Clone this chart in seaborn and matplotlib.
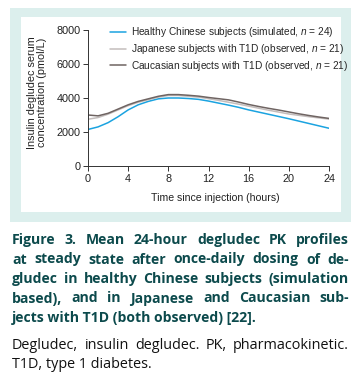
import pandas as pd
import matplotlib
matplotlib.use('Agg')
import matplotlib.pyplot as plt
import seaborn as sns
from matplotlib.patches import Rectangle

# Data (hourly, steady state)
hours = list(range(0, 25))
chinese = [2150, 2300, 2550, 2900, 3300, 3600, 3800, 3950, 4000, 4000, 3970, 3920, 3820,
           3700, 3580, 3450, 3300, 3170, 3040, 2910, 2780, 2640, 2500, 2360, 2220]
japanese = [2750, 2850, 3050, 3300, 3550, 3750, 3900, 4050, 4150, 4150, 4100, 4050, 3960,
            3860, 3750, 3640, 3520, 3400, 3280, 3170, 3060, 2980, 2900, 2830, 2760]
caucasian = [3000, 2950, 3100, 3350, 3600, 3800, 3950, 4100, 4200, 4200, 4160, 4110, 4030,
             3960, 3890, 3760, 3620, 3500, 3390, 3290, 3180, 3070, 2970, 2880, 2800]
series_names = ['Healthy Chinese subjects (simulated, $n$ = 24)',
                'Japanese subjects with T1D (observed, $n$ = 21)',
                'Caucasian subjects with T1D (observed, $n$ = 21)']
colors = ['#1ba3e0', '#c3bdbc', '#6f6462']
x_ticks = [0, 4, 8, 12, 16, 20, 24]
y_ticks = [0, 2000, 4000, 6000, 8000]

df = pd.DataFrame({
    'Time': hours * 3,
    'Conc': chinese + japanese + caucasian,
    'Group': [series_names[0]] * 25 + [series_names[1]] * 25 + [series_names[2]] * 25,
})

sns.set_style('ticks')
plt.rcParams['font.family'] = ['Liberation Sans', 'DejaVu Sans']
plt.rcParams['mathtext.fontset'] = 'custom'
plt.rcParams['mathtext.it'] = 'Liberation Sans:italic'
plt.rcParams['mathtext.rm'] = 'Liberation Sans'

W, H = 355, 376
fig = plt.figure(figsize=(W / 100, H / 100), dpi=100)
fig.patch.set_facecolor('white')

# teal frame and white inner panel
fig.patches.append(Rectangle((10 / W, 1 - 222 / H), 341 / W, 214 / H, transform=fig.transFigure,
                             facecolor='#dcefed', edgecolor='none', zorder=-3))
fig.patches.append(Rectangle((21 / W, 1 - 212 / H), 320 / W, 195 / H, transform=fig.transFigure,
                             facecolor='white', edgecolor='none', zorder=-2))

ax = fig.add_axes([88 / W, 1 - 166 / H, 241 / W, 136 / H])
ax.set_facecolor('none')
sns.lineplot(data=df, x='Time', y='Conc', hue='Group', palette=colors, linewidth=1.1,
             ax=ax, legend=False)
ax.set_xlim(0, 24)
ax.set_ylim(0, 8000)
ax.set_xticks(x_ticks)
ax.set_yticks(y_ticks)
ax.tick_params(labelsize=7.8, length=3.5, width=0.7, color='#333333', pad=2, labelcolor='#222222')
for s in ['top', 'right']:
    ax.spines[s].set_visible(False)
for s in ['left', 'bottom']:
    ax.spines[s].set_linewidth(0.7)
    ax.spines[s].set_color('#333333')
ax.set_xlabel('Time since injection (hours)', fontsize=7.6, color='#222222')
ax.set_ylabel('Insulin degludec serum\nconcentration (pmol/L)', fontsize=7.8, color='#222222',
              linespacing=1.05)
ax.xaxis.set_label_coords(0.53, -0.195)
ax.yaxis.set_label_coords(-0.17, 0.54)

handles = [plt.Line2D([], [], color=c, linewidth=1.1) for c in colors]
ax.legend(handles, series_names, loc='upper left', bbox_to_anchor=(0.091, 1.035), frameon=False,
          fontsize=7.3, handlelength=1.6, handletextpad=0.5, labelspacing=0.28, borderaxespad=0,
          borderpad=0)

# caption, justified like the journal layout
renderer = fig.canvas.get_renderer()
left_px, right_px = 12, 349


def put_line(text, y_base, justify, **kw):
    yb = 1 - y_base / H
    if not justify:
        fig.text(left_px / W, yb, text, va='baseline', ha='left', **kw)
        return
    words = text.split(' ')
    objs = [fig.text(0, yb, w, va='baseline', ha='left', **kw) for w in words]
    widths = [o.get_window_extent(renderer).width for o in objs]
    gap = (right_px - left_px - sum(widths)) / (len(words) - 1)
    x = left_px
    for o, w in zip(objs, widths):
        o.set_x(x / W)
        x += w + gap


cap_kw = dict(fontsize=10.1, fontweight='bold', color='#0c4a4c', family='Open Sans')
cap_lines = ['Figure 3. Mean 24-hour degludec PK profiles',
             'at steady state after once-daily dosing of de-',
             'gludec in healthy Chinese subjects (simulation',
             'based), and in Japanese and Caucasian sub-',
             'jects with T1D (both observed) [22].']
for i, line in enumerate(cap_lines):
    put_line(line, 244 + 19.5 * i, i < len(cap_lines) - 1, **cap_kw)

note_kw = dict(fontsize=10.4, color='#111111', family='Open Sans')
put_line('Degludec, insulin degludec. PK, pharmacokinetic.', 349, True, **note_kw)
put_line('T1D, type 1 diabetes.', 368.5, False, **note_kw)

fig.savefig('out.png', dpi=100)
